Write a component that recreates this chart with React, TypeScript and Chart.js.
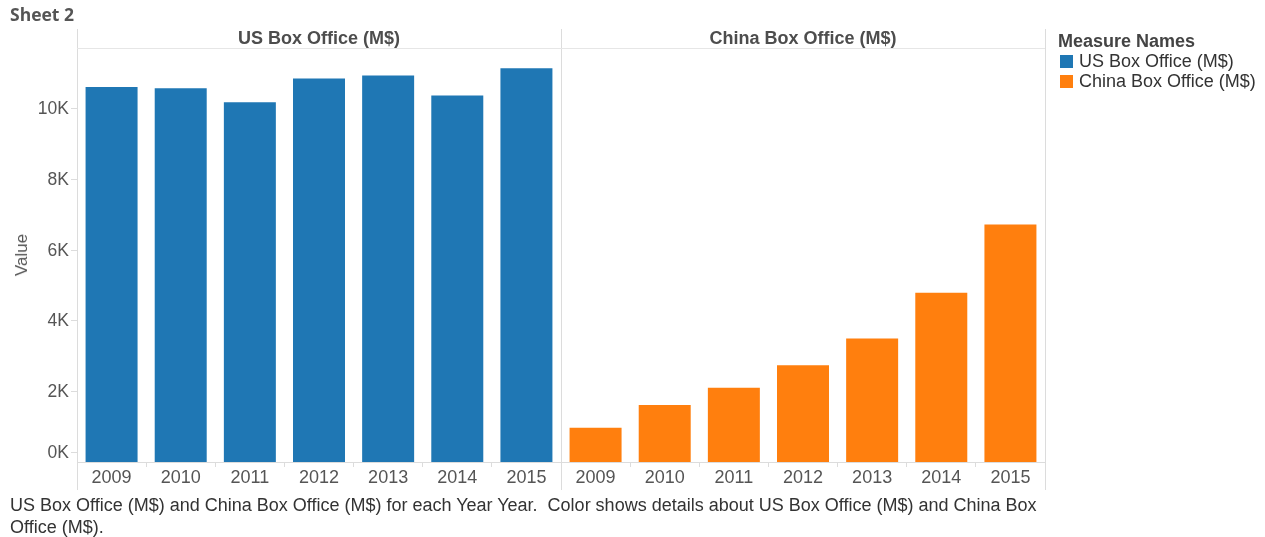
import React, { useEffect, useRef } from "react";
import { Chart, registerables } from "chart.js";

Chart.register(...registerables);

const years = ["2009", "2010", "2011", "2012", "2013", "2014", "2015"];
const usBoxOffice = [10600, 10565, 10170, 10840, 10925, 10360, 11130];
const chinaBoxOffice = [970, 1610, 2095, 2735, 3490, 4780, 6710];
const yTicks = [0, 2000, 4000, 6000, 8000, 10000];
const panelTitles = ["US Box Office (M$)", "China Box Office (M$)"];
const legendTitle = "Measure Names";
const seriesNames = ["US Box Office (M$)", "China Box Office (M$)"];
const seriesColors = ["#1f77b4", "#ff7f0e"];
const sheetTitle = "Sheet 2";
const axisTitle = "Value";
const captionLines = [
  "US Box Office (M$) and China Box Office (M$) for each Year Year.  Color shows details about US Box Office (M$) and China Box",
  "Office (M$).",
];

const FONT = '"Liberation Sans", Arial, Helvetica, sans-serif';
const LINE = "#dcdcdc";

export default function App() {
  const canvasRef = useRef<HTMLCanvasElement | null>(null);

  useEffect(() => {
    if (!canvasRef.current) return;
    const labels = [...years, ...years];
    const usData = [...usBoxOffice, ...years.map(() => null)];
    const cnData = [...years.map(() => null), ...chinaBoxOffice];

    const framePlugin = {
      id: "frame",
      afterDraw(chart: any) {
        const ctx = chart.ctx;
        const area = chart.chartArea;
        const y = chart.scales.y;
        const mid = (area.left + area.right) / 2;
        ctx.save();
        ctx.strokeStyle = LINE;
        ctx.lineWidth = 1;
        // panel borders
        [area.left, mid, area.right].forEach((px) => {
          ctx.beginPath();
          ctx.moveTo(Math.round(px) + 0.5, 29);
          ctx.lineTo(Math.round(px) + 0.5, 490);
          ctx.stroke();
        });
        // header bottom line
        ctx.strokeStyle = "#e6e6e6";
        ctx.beginPath();
        ctx.moveTo(area.left, Math.round(area.top) + 0.5);
        ctx.lineTo(area.right, Math.round(area.top) + 0.5);
        ctx.stroke();
        // y ticks and labels
        ctx.strokeStyle = LINE;
        ctx.fillStyle = "#555";
        ctx.font = `17.5px ${FONT}`;
        ctx.textAlign = "right";
        ctx.textBaseline = "middle";
        yTicks.forEach((v) => {
          let py = y.getPixelForValue(v);
          if (v === 0) py -= 10;
          py = Math.round(py) + 0.5;
          ctx.beginPath();
          ctx.moveTo(area.left - 6, py);
          ctx.lineTo(area.left, py);
          ctx.stroke();
          ctx.fillText(`${v / 1000}K`, area.left - 8, py + 1);
        });
        ctx.restore();
      },
    };

    const chart = new Chart(canvasRef.current, {
      type: "bar",
      data: {
        labels,
        datasets: [
          {
            label: seriesNames[0],
            data: usData,
            backgroundColor: seriesColors[0],
            borderWidth: 0,
          },
          {
            label: seriesNames[1],
            data: cnData,
            backgroundColor: seriesColors[1],
            borderWidth: 0,
          },
        ],
      },
      options: {
        animation: false,
        responsive: false,
        maintainAspectRatio: false,
        events: [],
        datasets: {
          bar: {
            grouped: false,
            barPercentage: 0.752,
            categoryPercentage: 1,
          },
        },
        layout: { padding: { left: 77, right: 220, top: 48, bottom: 47 } },
        plugins: {
          legend: { display: false },
          tooltip: { enabled: false },
          title: { display: false },
        },
        scales: {
          x: {
            type: "category",
            offset: true,
            grid: {
              display: true,
              drawOnChartArea: false,
              drawTicks: true,
              tickLength: 5,
              color: LINE,
              offset: true,
            },
            border: { display: true, color: LINE },
            ticks: {
              color: "#555",
              font: { family: FONT, size: 18 },
              padding: 0,
              maxRotation: 0,
              autoSkip: false,
            },
            afterFit: (s: any) => {
              s.height = 28;
            },
          },
          y: {
            display: false,
            min: 0,
            max: 11700,
          },
        },
      },
      plugins: [framePlugin],
    });
    return () => chart.destroy();
  }, []);

  const text = (style: React.CSSProperties, content: React.ReactNode, key?: string) => (
    <div key={key} style={{ position: "absolute", whiteSpace: "pre", ...style }}>
      {content}
    </div>
  );

  return (
    <div
      style={{
        position: "absolute",
        left: 0,
        top: 0,
        width: 1265,
        height: 537,
        background: "#fff",
        fontFamily: FONT,
        overflow: "hidden",
      }}
    >
      <canvas
        ref={canvasRef}
        width={1265}
        height={537}
        style={{ position: "absolute", left: 0, top: 0, width: 1265, height: 537 }}
      />
      {text(
        { left: 10, top: 4, fontSize: 17.5, fontWeight: 700, color: "#555", fontFamily: '"Open Sans", sans-serif', lineHeight: "20px" },
        sheetTitle
      )}
      {text(
        { left: 77, width: 484, top: 27, fontSize: 18, fontWeight: 700, color: "#4d4d4d", textAlign: "center", lineHeight: "22px" },
        panelTitles[0]
      )}
      {text(
        { left: 561, width: 484, top: 27, fontSize: 18, fontWeight: 700, color: "#4d4d4d", textAlign: "center", lineHeight: "22px" },
        panelTitles[1]
      )}
      {text(
        {
          left: 22,
          top: 255,
          fontSize: 17,
          color: "#555",
          lineHeight: "20px",
          transform: "translate(-50%, -50%) rotate(-90deg)",
        },
        axisTitle
      )}
      {text(
        { left: 1058, top: 30, fontSize: 18, fontWeight: 700, color: "#444", lineHeight: "22px" },
        legendTitle
      )}
      {seriesNames.map((name, i) => (
        <div
          key={name}
          style={{
            position: "absolute",
            left: 1060,
            top: 51 + i * 20,
            display: "flex",
            alignItems: "center",
            height: 20,
            whiteSpace: "nowrap",
          }}
        >
          <div style={{ width: 13, height: 13, background: seriesColors[i], marginRight: 6 }} />
          <span style={{ fontSize: 18, color: "#333", lineHeight: "20px" }}>{name}</span>
        </div>
      ))}
      {captionLines.map((line, i) =>
        text({ left: 10, top: 494 + i * 22, fontSize: 18, color: "#333", lineHeight: "22px" }, line, `c${i}`)
      )}
    </div>
  );
}
